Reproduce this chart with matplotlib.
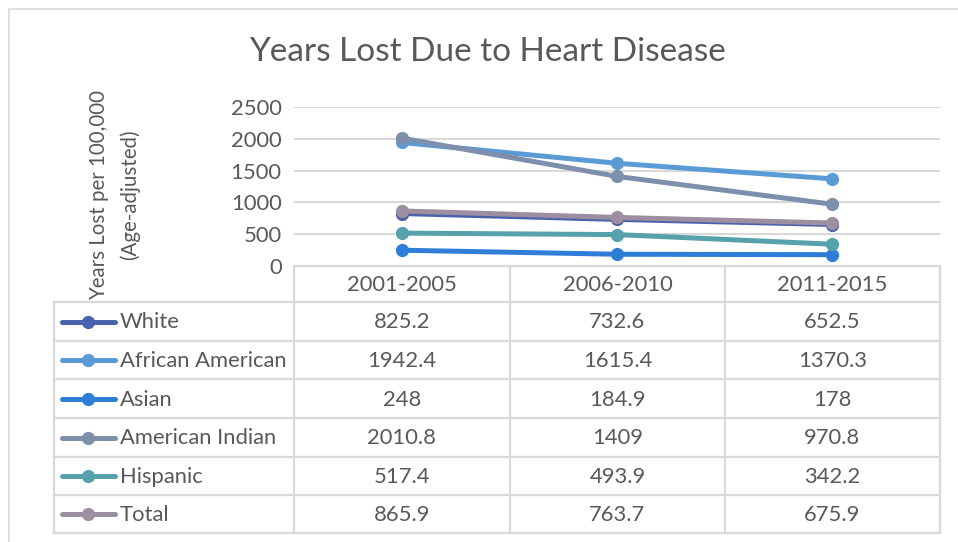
import matplotlib
matplotlib.use("Agg")
import matplotlib.pyplot as plt
from matplotlib.patches import Rectangle

plt.rcParams['font.family'] = ['Lato', 'DejaVu Sans']

periods = ["2001-2005", "2006-2010", "2011-2015"]
series_names = ["White", "African American", "Asian", "American Indian", "Hispanic", "Total"]
white = [825.2, 732.6, 652.5]
african_american = [1942.4, 1615.4, 1370.3]
asian = [248, 184.9, 178]
american_indian = [2010.8, 1409, 970.8]
hispanic = [517.4, 493.9, 342.2]
total = [865.9, 763.7, 675.9]
labels_text = {
    "White": ["825.2", "732.6", "652.5"],
    "African American": ["1942.4", "1615.4", "1370.3"],
    "Asian": ["248", "184.9", "178"],
    "American Indian": ["2010.8", "1409", "970.8"],
    "Hispanic": ["517.4", "493.9", "342.2"],
    "Total": ["865.9", "763.7", "675.9"],
}
values = [white, african_american, asian, american_indian, hispanic, total]
colors = ["#4a62ad", "#5b9bd5", "#2e7dd6", "#7e8fac", "#56a1ab", "#9d8fa1"]
yticks = [0, 500, 1000, 1500, 2000, 2500]

W, H = 958, 542
fig = plt.figure(figsize=(W / 100, H / 100), dpi=100)
TXT = "#595959"
GRID = "#d9d9d9"
FS = 15.8

def fx(px):
    return px / W

def fy(py):
    return 1 - py / H

# outer border
fig.patches.append(Rectangle((fx(9), fy(560)), fx(980) - fx(9), fy(9) - fy(560),
                             transform=fig.transFigure, fill=False,
                             edgecolor=GRID, linewidth=1.2))

# main plot axes
L, R, T, B = 294, 940, 107, 266
ax = fig.add_axes([fx(L), fy(B), fx(R) - fx(L), fy(T) - fy(B)])
ax.set_xlim(-0.5, 2.5)
ax.set_ylim(0, 2500)
ax.set_yticks(yticks)
ax.set_yticklabels([str(v) for v in yticks], fontsize=FS, color=TXT)
ax.tick_params(axis='y', length=0, pad=9)
ax.set_xticks([])
for s in ax.spines.values():
    s.set_visible(False)
ax.grid(axis='y', color=GRID, linewidth=1.5)
ax.set_axisbelow(True)
x = list(range(len(periods)))
for i in [1, 0, 2, 4, 3, 5]:
    ax.plot(x, values[i], color=colors[i], linewidth=3.6, marker='o',
            markersize=8.5, solid_capstyle='round', zorder=3, clip_on=False)

fig.text(fx(487), fy(52), "Years Lost Due to Heart Disease", ha='center', va='center',
         fontsize=24, color=TXT)
fig.text(fx(99), fy(195), "Years Lost per 100,000", rotation=90, ha='center', va='center',
         fontsize=14.8, color=TXT)
fig.text(fx(130), fy(195), "(Age-adjusted)", rotation=90, ha='center', va='center',
         fontsize=14.8, color=TXT)

# data table
tx = fig.add_axes([0, 0, 1, 1])
tx.set_xlim(0, W)
tx.set_ylim(H, 0)
tx.axis('off')
cols = [54, 294, 510, 725, 940]
rows = [266, 302, 341, 379, 418, 457, 495, 533]
lw = 1.6
tx.plot([294, 940], [266, 266], color=GRID, lw=lw)
for c in cols[1:]:
    tx.plot([c, c], [266, 533], color=GRID, lw=lw)
tx.plot([54, 54], [302, 533], color=GRID, lw=lw)
for r in rows[1:]:
    tx.plot([54, 940], [r, r], color=GRID, lw=lw)
for j, p in enumerate(periods):
    tx.text((cols[j + 1] + cols[j + 2]) / 2, (rows[0] + rows[1]) / 2 + 1, p,
            ha='center', va='center', fontsize=FS, color=TXT)
for i, name in enumerate(series_names):
    yc = (rows[i + 1] + rows[i + 2]) / 2
    tx.plot([62, 115], [yc, yc], color=colors[i], lw=3.6, solid_capstyle='round')
    tx.plot([88], [yc], marker='o', markersize=8.5, color=colors[i])
    tx.text(120, yc + 1, name, ha='left', va='center', fontsize=FS, color=TXT)
    for j in range(len(periods)):
        tx.text((cols[j + 1] + cols[j + 2]) / 2, yc + 1, labels_text[name][j],
                ha='center', va='center', fontsize=FS, color=TXT)

fig.savefig("out.png", dpi=100)
